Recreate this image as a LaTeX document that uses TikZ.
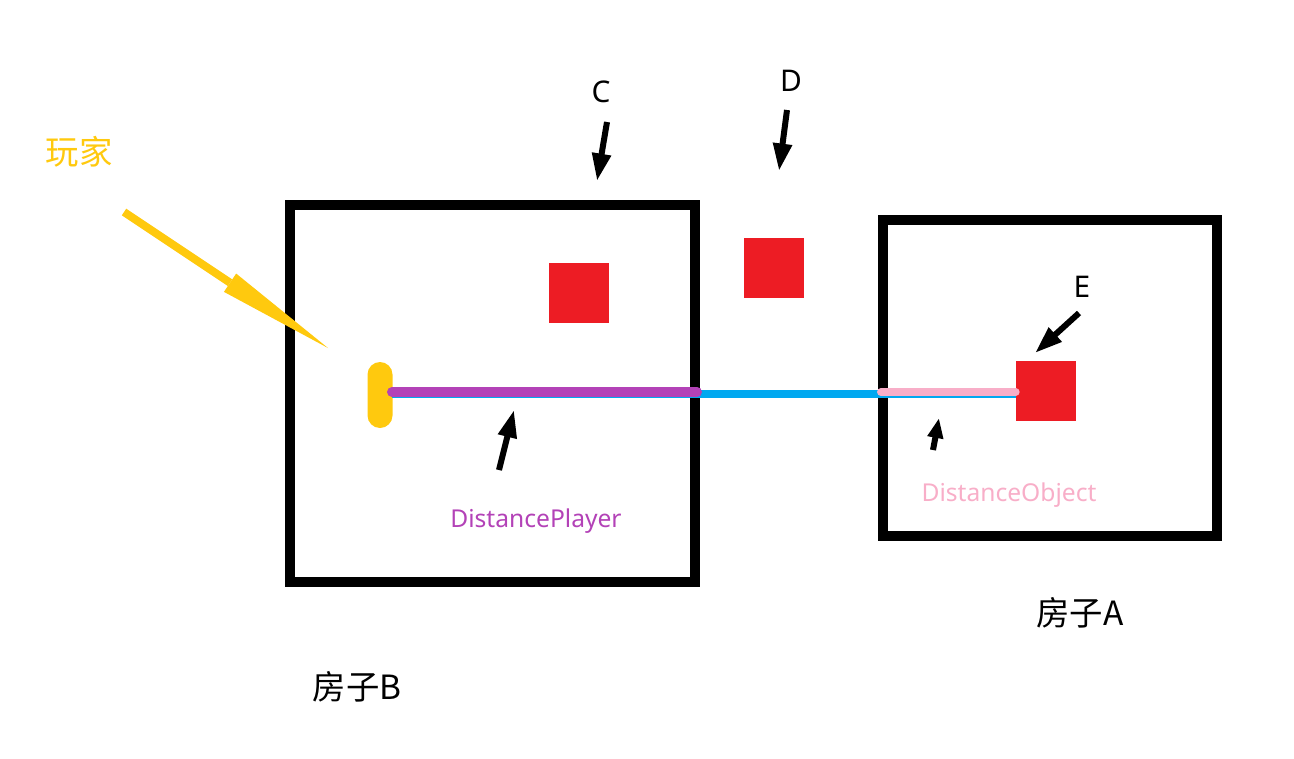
\documentclass[tikz,border=0pt]{standalone}
\usepackage{fontspec}
\setmainfont{Noto Sans}
\newfontfamily\cjk{Noto Sans CJK SC}
\usepackage{xcolor}
\usetikzlibrary{calc,arrows.meta}
\definecolor{wanjia}{HTML}{FFC90E}
\definecolor{fangred}{HTML}{ED1C24}
\definecolor{xianblue}{HTML}{00A8F0}
\definecolor{playerpurple}{HTML}{B342B7}
\definecolor{objectpink}{HTML}{F8AEC8}
\tikzset{
	house/.style={draw=black,line width=0.2cm},
	redbox/.style={fill=fangred},
	pointer/.style={line width=0.12cm,-{Triangle[length=0.55cm,width=0.36cm]}},
	letter/.style={font=\fontsize{17}{20}\selectfont},
	hanzi/.style={font=\cjk\fontsize{19}{22}\selectfont},
	distlabel/.style={font=\fontsize{14}{17}\selectfont}
}

\begin{document}
\begin{tikzpicture}[x=0.02cm,y=-0.02cm]
			\useasboundingbox (0,0) rectangle (1294,758);
			\coordinate (B1) at (290,205);
			\coordinate (B2) at (695,582);
			\coordinate (A1) at (883,220);
			\coordinate (A2) at (1217,536);
			\draw[house] (B1) rectangle (B2);
			\draw[house] (A1) rectangle (A2);
			\node[redbox,minimum size=1.2cm,inner sep=0pt] (rC) at (579,293) {};
			\node[redbox,minimum size=1.2cm,inner sep=0pt] (rD) at (774,268) {};
			\node[redbox,minimum size=1.2cm,inner sep=0pt] (rE) at (1046,391) {};
			\node[fill=wanjia,rounded corners=0.25cm,minimum width=0.5cm,minimum height=1.32cm,inner sep=0pt] (player) at (380,395) {};
			\coordinate (pEnd) at (392,394);
			\coordinate (oEnd) at (rE.west |- pEnd);
			\coordinate (wall) at (697,392);
			\coordinate (wallA) at (881,392);
			\draw[xianblue,line width=0.16cm] (pEnd) -- (oEnd);
			\draw[playerpurple,line width=0.2cm,line cap=round] ($(pEnd)+(0,-2)$) -- (wall);
			\draw[objectpink,line width=0.16cm,line cap=round] (wallA) -- ($(oEnd)+(0,-2)$);
			\node[hanzi,text=wanjia] (tWanjia) at (79,152) {玩家};
			\coordinate (y1) at (124,212);
			\coordinate (y2) at (328,348);
			\coordinate (yb) at ($(y1)!0.52!(y2)$);
			\draw[wanjia,line width=0.16cm] (y1) -- (yb);
			\fill[wanjia] ($(yb)!0.22cm!90:(y2)$) -- (y2) -- ($(yb)!0.22cm!-90:(y2)$) -- cycle;
			\node[letter] (tC) at (601,92) {C};
			\node[letter] (tD) at (791,81) {D};
			\node[letter] (tE) at (1082,287) {E};
			\coordinate (c1) at (607,122);
			\coordinate (c2) at (597,181);
			\coordinate (d1) at (787,110);
			\coordinate (d2) at (779,171);
			\coordinate (e1) at (1079,313);
			\coordinate (e2) at (1035,353);
			\draw[pointer] (c1) -- (c2);
			\draw[pointer] (d1) -- (d2);
			\draw[pointer] (e1) -- (e2);
			\coordinate (p1) at (499,470);
			\coordinate (p2) at (514,410);
			\coordinate (o1) at (933,450);
			\coordinate (o2) at (939,418);
			\draw[pointer] (p1) -- (p2);
			\draw[line width=0.12cm,-{Triangle[length=0.4cm,width=0.3cm]}] (o1) -- (o2);
			\node[distlabel,text=playerpurple] (tPlayer) at (536,521) {DistancePlayer};
			\node[distlabel,text=objectpink] (tObject) at (1009,495) {DistanceObject};
			\node[hanzi] (tHouseA) at (1080,613) {房子A};
			\node[hanzi] (tHouseB) at (357,687) {房子B};
		\end{tikzpicture}
\end{document}
